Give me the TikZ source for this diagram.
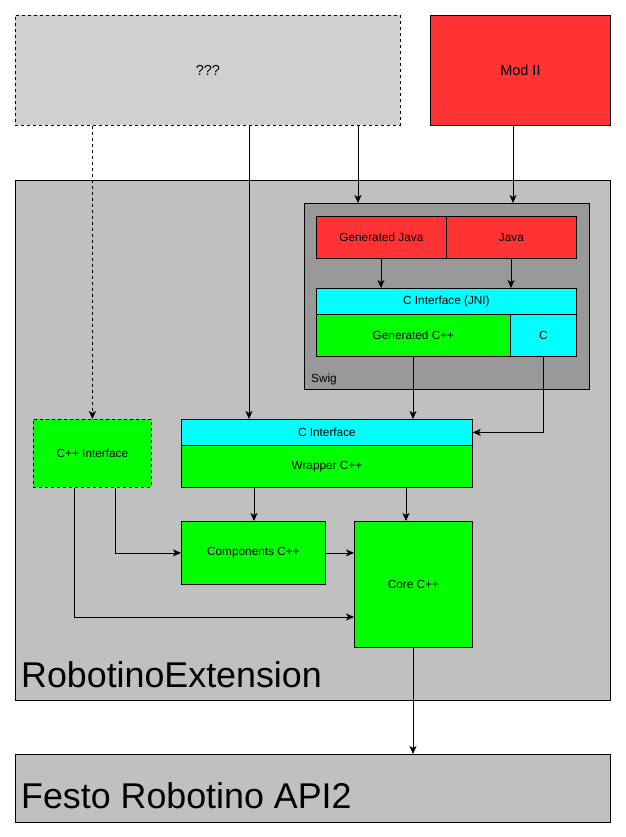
\documentclass[tikz,border=0pt]{standalone}
\usepackage{fontspec}
\setmainfont{Liberation Sans}
\usetikzlibrary{arrows.meta}

\definecolor{boxgrey}{HTML}{C0C0C0}
\definecolor{lightgrey}{HTML}{D0D0D0}
\definecolor{swiggrey}{HTML}{999999}
\definecolor{modred}{HTML}{FF3333}
\definecolor{cppgreen}{HTML}{00FF00}
\definecolor{ccyan}{HTML}{00FFFF}

\tikzset{
    box/.style={draw, line width=0.8pt, anchor=north west, inner sep=0pt, font=\fontsize{11.8}{13}\selectfont},
    conn/.style={line width=0.8pt, -{Stealth[length=8pt,width=7pt,inset=2pt]}},
    biglabel/.style={anchor=base west, inner sep=0pt, font=\fontsize{35.8}{40}\selectfont},
}

\begin{document}
\begin{tikzpicture}[x=1pt,y=-1pt]
    \useasboundingbox (0,0) rectangle (625,837);

    % Oben
    \node[box, dashed, fill=lightgrey, minimum width=385pt, minimum height=110pt, font=\fontsize{14.5}{16}\selectfont] (unknown) at (15,15) {???};
    \node[box, fill=modred, minimum width=180pt, minimum height=110pt, font=\fontsize{14.5}{16}\selectfont] (modii) at (430,15) {Mod II};

    % Container
    \node[box, fill=boxgrey, minimum width=595pt, minimum height=520pt] (ext) at (15,180) {};
    \node[biglabel] (extlabel) at (21,687) {RobotinoExtension};
    \node[box, fill=boxgrey, minimum width=595pt, minimum height=68pt] (api) at (15,754) {};
    \node[biglabel] (apilabel) at (21,808) {Festo Robotino API2};

    % Swig
    \node[box, fill=swiggrey, minimum width=285pt, minimum height=186pt] (swig) at (304,203) {};
    \node[anchor=base west, inner sep=0pt, font=\fontsize{11.8}{13}\selectfont] (swiglabel) at (311,382) {Swig};
    \node[box, fill=modred, minimum width=130pt, minimum height=42pt] (genjava) at (316,216) {Generated Java};
    \node[box, fill=modred, minimum width=130pt, minimum height=42pt] (java) at (446,216) {Java};
    \node[box, fill=ccyan, minimum width=260pt, minimum height=26pt] (jni) at (316,288) {C Interface (JNI)};
    \node[box, fill=cppgreen, minimum width=194pt, minimum height=42pt] (gencpp) at (316,314) {Generated C++};
    \node[box, fill=ccyan, minimum width=66pt, minimum height=42pt] (cside) at (510,314) {C};

    % Innen
    \node[box, dashed, fill=cppgreen, minimum width=118pt, minimum height=68pt] (cppif) at (33,419) {C++ Interface};
    \node[box, fill=ccyan, minimum width=291pt, minimum height=26pt] (cif) at (181,419) {C Interface};
    \node[box, fill=cppgreen, minimum width=291pt, minimum height=42pt] (wrapper) at (181,445) {Wrapper C++};
    \node[box, fill=cppgreen, minimum width=144pt, minimum height=63pt] (comp) at (181,521) {Components C++};
    \node[box, fill=cppgreen, minimum width=118pt, minimum height=126pt] (core) at (354,521) {Core C++};

    % Pfeile
    \draw[conn, dashed] (unknown.south west -| cppif.north) -- (cppif.north);
    \draw[conn] (unknown.south -| 249,0) -- (cif.north west -| 249,0);
    \draw[conn] (unknown.south -| 358,0) -- (swig.north -| 358,0);
    \draw[conn] (modii.south -| 513,0) -- (swig.north -| 513,0);
    \draw[conn] (genjava.south -| 381,0) -- (jni.north -| 381,0);
    \draw[conn] (java.south -| 511,0) -- (jni.north -| 511,0);
    \draw[conn] (gencpp.south -| 413,0) -- (cif.north -| 413,0);
    \draw[conn] (cside.south -| 543,0) |- (cif.east);
    \draw[conn] (wrapper.south -| 254,0) -- (comp.north -| 254,0);
    \draw[conn] (wrapper.south -| 406,0) -- (core.north -| 406,0);
    \draw[conn] (cppif.south -| 115,0) |- (comp.west);
    \draw[conn] (comp.east) -- (comp.east -| core.west);
    \draw[conn] (cppif.south -| 74,0) |- (core.west |- 0,617);
    \draw[conn] (core.south -| 413,0) -- (api.north -| 413,0);
\end{tikzpicture}
\end{document}
